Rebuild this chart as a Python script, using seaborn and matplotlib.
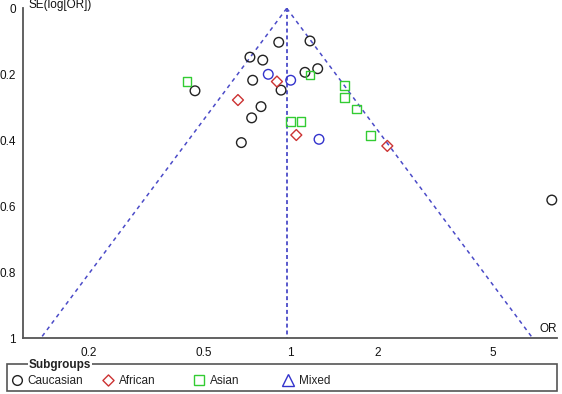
import numpy as np
import pandas as pd
import matplotlib.pyplot as plt
import seaborn as sns
from matplotlib.path import Path
from matplotlib.patches import Rectangle

# ---------------------------------------------------------------------
# study estimates (OR, SE of log OR)
# ---------------------------------------------------------------------
caucasian_or = [0.912, 1.170, 0.725, 0.803, 0.741, 0.468, 0.929, 0.792, 0.735, 0.677, 1.124, 1.244, 8.03]
caucasian_se = [0.103, 0.099, 0.148, 0.157, 0.218, 0.250, 0.248, 0.298, 0.332, 0.407, 0.194, 0.183, 0.581]
african_or = [0.659, 0.899, 1.049, 2.166]
african_se = [0.278, 0.222, 0.384, 0.417]
asian_or = [0.439, 1.170, 1.538, 1.538, 1.697, 1.891, 1.000, 1.089]
asian_se = [0.223, 0.202, 0.235, 0.271, 0.305, 0.385, 0.344, 0.344]
mixed_or = [0.839, 1.003, 1.257]
mixed_se = [0.200, 0.218, 0.397]

subgroups = ["Caucasian", "African", "Asian", "Mixed"]
pooled_or = 0.972          # centre of the funnel
se_range = [0.0, 1.0]      # pseudo 95% limits drawn over this SE span

x_ticks = [0.2, 0.5, 1, 2, 5]
x_labels = ["0.2", "0.5", "1", "2", "5"]
y_ticks = [0, 0.2, 0.4, 0.6, 0.8, 1]
y_labels = ["0", "0.2", "0.4", "0.6", "0.8", "1"]

df = pd.concat([
    pd.DataFrame({"OR": caucasian_or, "SE": caucasian_se, "Subgroup": "Caucasian"}),
    pd.DataFrame({"OR": african_or, "SE": african_se, "Subgroup": "African"}),
    pd.DataFrame({"OR": asian_or, "SE": asian_se, "Subgroup": "Asian"}),
    pd.DataFrame({"OR": mixed_or, "SE": mixed_se, "Subgroup": "Mixed"}),
], ignore_index=True)

# ---------------------------------------------------------------------
# styling
# ---------------------------------------------------------------------
sns.set_style("white")
plt.rcParams["font.family"] = ["Liberation Sans", "DejaVu Sans"]
plt.rcParams["font.size"] = 8.5

colors = {"Caucasian": "#222222", "African": "#CC3333", "Asian": "#33CC33", "Mixed": "#3333CC"}
diamond = Path([(0, -1), (1, 0), (0, 1), (-1, 0), (0, -1)], closed=True)
markers = {"Caucasian": "o", "African": diamond, "Asian": "s", "Mixed": "o"}
marker_sizes = {"Caucasian": 48, "African": 62, "Asian": 40, "Mixed": 48}
legend_markers = {"Caucasian": "o", "African": diamond, "Asian": "s", "Mixed": "^"}
legend_msize = {"Caucasian": 7, "African": 8, "Asian": 6.5, "Mixed": 9}
funnel_color = "#4B4BC8"
axis_color = "#555555"

W, H = 562, 394
fig = plt.figure(figsize=(W / 100, H / 100), dpi=100)
ax = fig.add_axes([23 / W, (H - 338.3) / H, 534 / W, 330 / H])

# funnel: pooled estimate and pseudo 95% limits
se_arr = np.array(se_range)
ax.plot([pooled_or, pooled_or], se_arr, color=funnel_color, lw=1.3,
        dashes=(2.2, 1.6), zorder=1)
ax.plot(pooled_or * np.exp(-1.96 * se_arr), se_arr, color=funnel_color, lw=1.1,
        dashes=(2.6, 2.6), zorder=1)
ax.plot(pooled_or * np.exp(1.96 * se_arr), se_arr, color=funnel_color, lw=1.1,
        dashes=(2.6, 2.6), zorder=1)

sns.scatterplot(data=df, x="OR", y="SE", hue="Subgroup", style="Subgroup",
                size="Subgroup", sizes=marker_sizes,
                palette=colors, markers=markers, legend=False,
                ax=ax, zorder=3, clip_on=False)
# hollow markers
for coll in ax.collections:
    fc = coll.get_facecolors()
    coll.set_edgecolors(fc)
    coll.set_facecolors("none")
    coll.set_linewidth(1.0)

ax.set_xscale("log")
ax.set_xlim(0.1189, 8.37)
ax.set_ylim(1, 0)
ax.set_xticks(x_ticks)
ax.set_xticklabels(x_labels)
ax.set_yticks(y_ticks)
ax.set_yticklabels(y_labels)
ax.minorticks_off()
ax.set_xlabel("")
ax.set_ylabel("")

for side in ["top", "right"]:
    ax.spines[side].set_visible(False)
for side in ["left", "bottom"]:
    ax.spines[side].set_color(axis_color)
    ax.spines[side].set_linewidth(1.3)
ax.tick_params(axis="both", direction="inout", length=7, width=1.1,
               color=axis_color, labelsize=8.5, labelcolor="#111111")
ax.tick_params(axis="x", pad=3)
ax.tick_params(axis="y", pad=1.5)

ax.text(1.0, 0.009, "OR", transform=ax.transAxes, ha="right", va="bottom",
        fontsize=8.5, color="#111111")
ax.text(0.011, 1.009, "SE(log[OR])", transform=ax.transAxes, ha="left",
        va="center", fontsize=8.5, color="#111111")

# ---------------------------------------------------------------------
# subgroup key (boxed, title on the border)
# ---------------------------------------------------------------------
lax = fig.add_axes([0, 0, 1, 1])
lax.set_xlim(0, W)
lax.set_ylim(H, 0)
lax.axis("off")
lax.add_patch(Rectangle((7.3, 364.3), 550, 26.7, fill=False,
                        edgecolor=axis_color, lw=1.2))
lax.text(29, 365, "Subgroups", fontsize=8.5, fontweight="bold", ha="left",
         va="center", color="#222222",
         bbox=dict(facecolor="white", edgecolor="none", pad=0.6))

key_x = [16.7, 108, 199, 288]
for name, kx in zip(subgroups, key_x):
    lax.plot([kx], [380], marker=legend_markers[name], markersize=legend_msize[name],
             markerfacecolor="none", markeredgecolor=colors[name],
             markeredgewidth=1.0, linestyle="none")
    lax.text(kx + 11, 381, name, fontsize=8.5, ha="left", va="center",
             color="#222222")

fig.savefig("out.png", dpi=100)
